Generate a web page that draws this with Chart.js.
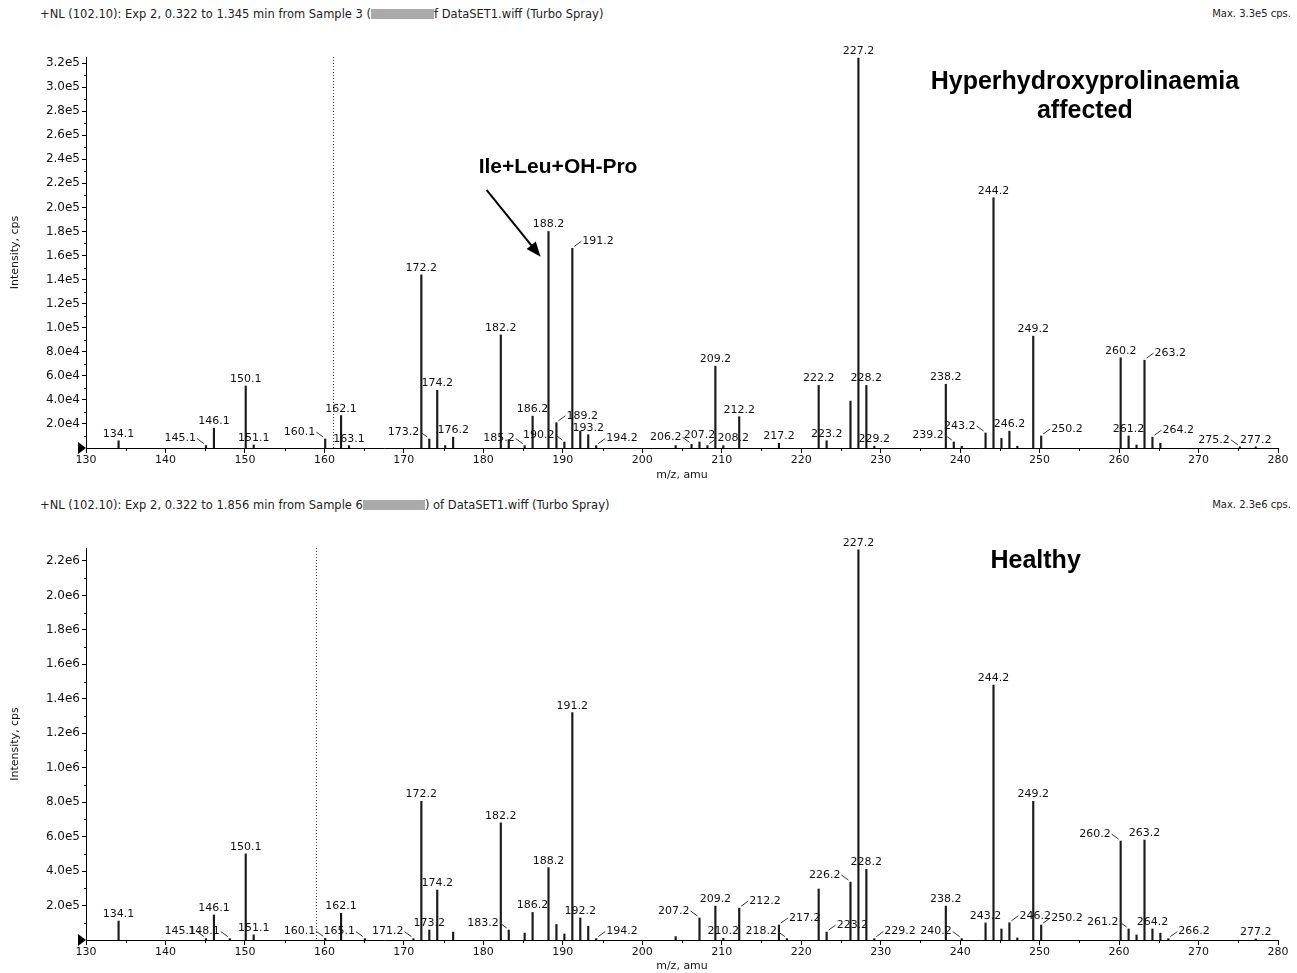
<!DOCTYPE html>
<html>
<head>
<meta charset="utf-8">
<script src="https://cdn.jsdelivr.net/npm/chart.js@4.4.1/dist/chart.umd.min.js"></script>
<style>
body { margin: 0; background: #fff; width: 1297px; height: 973px; position: relative; overflow: hidden; font-family: "DejaVu Sans", sans-serif; }
.hdr { position: absolute; left: 40px; font-size: 11.5px; color: #222; white-space: nowrap; }
.max { position: absolute; right: 6px; font-size: 10px; color: #222; white-space: nowrap; }
.blk { display: inline-block; background: #aaa; height: 10px; vertical-align: -1px; }
canvas { position: absolute; left: 0; }
</style>
</head>
<body>
<div class="hdr" style="top:7px">+NL (102.10): Exp 2, 0.322 to 1.345 min from Sample 3 (<span class="blk" style="width:63px"></span>f DataSET1.wiff (Turbo Spray)</div>
<div class="max" style="top:8px">Max. 3.3e5 cps.</div>
<div class="hdr" style="top:498px">+NL (102.10): Exp 2, 0.322 to 1.856 min from Sample 6<span class="blk" style="width:62px"></span>) of DataSET1.wiff (Turbo Spray)</div>
<div class="max" style="top:499px">Max. 2.3e6 cps.</div>
<canvas id="affected" width="1297" height="486" style="top:0"></canvas>
<canvas id="healthy" width="1297" height="487" style="top:486px"></canvas>
<script>
// affected sample (top spectrum)
const mzA = [134.1, 145.1, 146.1, 150.1, 151.1, 160.1, 162.1, 163.1, 172.2, 173.2, 174.2, 175.2, 176.2,
  182.2, 183.2, 185.2, 186.2, 188.2, 189.2, 190.2, 191.2, 192.2, 193.2, 194.2, 204.2, 206.2, 207.2, 208.2,
  209.2, 210.2, 212.2, 217.2, 222.2, 223.2, 226.2, 227.2, 228.2, 229.2, 238.2, 239.2, 240.2, 243.2, 244.2,
  245.2, 246.2, 247.2, 249.2, 250.2, 260.2, 261.2, 262.2, 263.2, 264.2, 265.2, 275.2, 277.2];
const intA = [6000, 2000, 16500, 51500, 2500, 7500, 27000, 2000, 144000, 7500, 48000, 2000, 9000,
  94000, 7000, 2000, 26500, 180000, 21000, 5000, 166000, 14000, 11000, 2000, 2000, 3000, 5000, 2000,
  68000, 2000, 26000, 4000, 52000, 6000, 39000, 324000, 52000, 1500, 53000, 5000, 1500, 12500, 208000,
  8000, 14000, 1500, 93000, 10000, 75000, 10000, 2500, 73000, 9000, 4000, 1000, 1000];
const labeledA = [134.1, 145.1, 146.1, 150.1, 151.1, 160.1, 162.1, 163.1, 172.2, 173.2, 174.2, 176.2,
  182.2, 185.2, 186.2, 188.2, 189.2, 190.2, 191.2, 193.2, 194.2, 206.2, 207.2, 208.2, 209.2, 212.2, 217.2,
  222.2, 223.2, 227.2, 228.2, 229.2, 238.2, 239.2, 243.2, 244.2, 246.2, 249.2, 250.2, 260.2, 261.2, 263.2,
  264.2, 275.2, 277.2];

// healthy sample (bottom spectrum)
const mzB = [134.1, 145.1, 146.1, 148.1, 150.1, 151.1, 160.1, 162.1, 165.1, 171.2, 172.2, 173.2, 174.2,
  176.2, 182.2, 183.2, 185.2, 186.2, 188.2, 189.2, 190.2, 191.2, 192.2, 193.2, 194.2, 204.2, 207.2, 209.2,
  210.2, 212.2, 217.2, 218.2, 222.2, 223.2, 226.2, 227.2, 228.2, 229.2, 238.2, 240.2, 243.2, 244.2, 245.2,
  246.2, 247.2, 249.2, 250.2, 260.2, 261.2, 262.2, 263.2, 264.2, 265.2, 266.2, 277.2];
const intB = [110000, 8000, 145000, 8000, 500000, 30000, 10000, 155000, 8000, 8000, 805000, 58000, 290000,
  46000, 680000, 58000, 40000, 160000, 420000, 90000, 35000, 1320000, 128000, 80000, 8000, 20000, 128000, 197000,
  10000, 185000, 87000, 8000, 296000, 46000, 336000, 2265000, 410000, 8000, 197000, 8000, 99000, 1480000, 64000,
  100000, 12000, 805000, 87000, 574000, 64000, 29000, 580000, 64000, 40000, 8000, 6000];
const labeledB = [134.1, 145.1, 146.1, 148.1, 150.1, 151.1, 160.1, 162.1, 165.1, 171.2, 172.2, 173.2, 174.2,
  182.2, 183.2, 186.2, 188.2, 191.2, 192.2, 194.2, 207.2, 209.2, 210.2, 212.2, 217.2, 218.2, 223.2, 226.2,
  227.2, 228.2, 229.2, 238.2, 240.2, 243.2, 244.2, 246.2, 249.2, 250.2, 260.2, 261.2, 263.2, 264.2, 266.2, 277.2];

// which labels sit beside their peak with a small leader
const leftA = [145.1, 160.1, 173.2, 185.2, 190.2, 206.2, 239.2, 243.2, 275.2];
const rightA = [189.2, 191.2, 194.2, 208.2, 250.2, 263.2, 264.2];
const leftB = [145.1, 148.1, 160.1, 165.1, 171.2, 183.2, 207.2, 218.2, 226.2, 240.2, 260.2, 261.2];
const rightB = [194.2, 212.2, 217.2, 223.2, 229.2, 246.2, 250.2, 266.2];

const small = '11px "DejaVu Sans"';

const spectrumDecor = {
  id: 'spectrumDecor',
  afterDatasetsDraw(chart, args, o) {
    const ctx = chart.ctx, xs = chart.scales.x, ys = chart.scales.y, area = chart.chartArea;
    const base = ys.getPixelForValue(0);
    ctx.save();

    // dotted precursor line
    const mx = Math.round(xs.getPixelForValue(o.marker)) + 0.5;
    ctx.strokeStyle = '#444';
    ctx.lineWidth = 1;
    ctx.setLineDash([1, 2]);
    ctx.beginPath();
    ctx.moveTo(mx, area.top);
    ctx.lineTo(mx, base);
    ctx.stroke();
    ctx.setLineDash([]);

    // minor ticks
    ctx.strokeStyle = '#000';
    ctx.beginPath();
    for (let v = 135; v < 280; v += 10) {
      const p = Math.round(xs.getPixelForValue(v)) + 0.5;
      ctx.moveTo(p, base);
      ctx.lineTo(p, base + 3);
    }
    for (let v = o.step / 2; v < ys.max; v += o.step) {
      const p = Math.round(ys.getPixelForValue(v)) + 0.5;
      ctx.moveTo(area.left, p);
      ctx.lineTo(area.left - 2, p);
    }
    ctx.stroke();

    // start marker
    ctx.fillStyle = '#000';
    ctx.beginPath();
    ctx.moveTo(area.left - 8, base - 6);
    ctx.lineTo(area.left, base);
    ctx.lineTo(area.left - 8, base + 6);
    ctx.closePath();
    ctx.fill();

    // peak labels
    ctx.font = small;
    ctx.fillStyle = '#111';
    ctx.strokeStyle = '#333';
    const pts = chart.data.datasets[0].data;
    chart.getDatasetMeta(0).data.forEach((bar, i) => {
      const mz = pts[i].x;
      if (!o.labeled.includes(mz)) return;
      const txt = mz.toFixed(1);
      const px = bar.x, top = bar.y;
      if (o.left.includes(mz)) {
        ctx.textAlign = 'right';
        ctx.textBaseline = 'middle';
        ctx.fillText(txt, px - 10, top - 7);
        ctx.beginPath();
        ctx.moveTo(px - 9, top - 7);
        ctx.lineTo(px - 2, top - 2);
        ctx.stroke();
      } else if (o.right.includes(mz)) {
        ctx.textAlign = 'left';
        ctx.textBaseline = 'middle';
        ctx.fillText(txt, px + 10, top - 7);
        ctx.beginPath();
        ctx.moveTo(px + 9, top - 7);
        ctx.lineTo(px + 2, top - 2);
        ctx.stroke();
      } else {
        ctx.textAlign = 'center';
        ctx.textBaseline = 'alphabetic';
        ctx.fillText(txt, px, top - 4);
      }
    });

    // annotations
    ctx.fillStyle = '#000';
    ctx.textAlign = 'center';
    ctx.textBaseline = 'middle';
    o.notes.forEach(n => {
      ctx.font = n.font;
      ctx.fillText(n.text, xs.getPixelForValue(n.x), ys.getPixelForValue(n.y));
    });
    if (o.arrow) {
      const x0 = xs.getPixelForValue(o.arrow[0]), y0 = ys.getPixelForValue(o.arrow[1]);
      const x1 = xs.getPixelForValue(o.arrow[2]), y1 = ys.getPixelForValue(o.arrow[3]);
      const a = Math.atan2(y1 - y0, x1 - x0);
      ctx.strokeStyle = '#000';
      ctx.lineWidth = 2;
      ctx.beginPath();
      ctx.moveTo(x0, y0);
      ctx.lineTo(x1 - 12 * Math.cos(a), y1 - 12 * Math.sin(a));
      ctx.stroke();
      ctx.beginPath();
      ctx.moveTo(x1, y1);
      ctx.lineTo(x1 - 16 * Math.cos(a - 0.38), y1 - 16 * Math.sin(a - 0.38));
      ctx.lineTo(x1 - 16 * Math.cos(a + 0.38), y1 - 16 * Math.sin(a + 0.38));
      ctx.closePath();
      ctx.fill();
    }
    ctx.restore();
  }
};

function spectrum(id, mz, inten, cfg) {
  const pts = mz.map((m, i) => ({ x: m, y: inten[i] }));
  const step = cfg.step;
  return new Chart(document.getElementById(id), {
    type: 'bar',
    data: { datasets: [{ data: pts, backgroundColor: '#1a1a1a', barThickness: 1.5 }] },
    options: {
      responsive: false,
      animation: false,
      layout: { padding: { top: cfg.padTop, right: 19, left: 0, bottom: 0 } },
      plugins: {
        legend: { display: false },
        tooltip: { enabled: false },
        spectrumDecor: {
          marker: cfg.marker, step: step, labeled: cfg.labeled, left: cfg.left, right: cfg.right,
          notes: cfg.notes, arrow: cfg.arrow
        }
      },
      scales: {
        x: {
          type: 'linear', min: 130, max: 280, offset: false,
          ticks: { stepSize: 10, color: '#111', font: { family: 'DejaVu Sans', size: 11 }, padding: 1, maxRotation: 0, autoSkip: false },
          grid: { drawOnChartArea: false, offset: false, color: '#000', tickLength: 5 },
          border: { color: '#000', width: 1 },
          title: { display: true, text: 'm/z, amu', color: '#111', font: { family: 'DejaVu Sans', size: 11 }, padding: { top: 0, bottom: cfg.titlePad } },
          afterFit: s => { s.height = cfg.axisH; }
        },
        y: {
          min: 0, max: cfg.yMax,
          ticks: {
            autoSkip: false, color: '#111', font: { family: 'DejaVu Sans', size: 12 }, padding: 2,
            callback: v => v.toExponential(1).replace('+', '')
          },
          // major ticks on whole steps only, no tick at zero
          afterBuildTicks: s => {
            const t = [];
            for (let k = 1; k * step <= cfg.yMax; k++) t.push({ value: k * step });
            s.ticks = t;
          },
          grid: { drawOnChartArea: false, color: '#000', tickLength: 4 },
          border: { color: '#000', width: 1 },
          title: { display: true, text: 'Intensity, cps', color: '#111', font: { family: 'DejaVu Sans', size: 11 }, padding: { top: 9, bottom: 0 } },
          afterFit: s => { s.width = 86; }
        }
      }
    },
    plugins: [spectrumDecor]
  });
}

spectrum('affected', mzA, intA, {
  yMax: 325000, step: 20000, padTop: 57, axisH: 38, titlePad: 4, marker: 161.1,
  labeled: labeledA, left: leftA, right: rightA,
  notes: [
    { text: 'Hyperhydroxyprolinaemia', x: 255.7, y: 304000, font: 'bold 25px "Liberation Sans"' },
    { text: 'affected', x: 255.7, y: 280000, font: 'bold 25px "Liberation Sans"' },
    { text: 'Ile+Leu+OH-Pro', x: 189.4, y: 233500, font: 'bold 21px "Liberation Sans"' }
  ],
  arrow: [180.4, 214500, 187.2, 159000]
});

spectrum('healthy', mzB, intB, {
  yMax: 2275000, step: 200000, padTop: 62, axisH: 33, titlePad: 0, marker: 158.9,
  labeled: labeledB, left: leftB, right: rightB,
  notes: [
    { text: 'Healthy', x: 249.5, y: 2200000, font: 'bold 25px "Liberation Sans"' }
  ]
});
</script>
</body>
</html>
